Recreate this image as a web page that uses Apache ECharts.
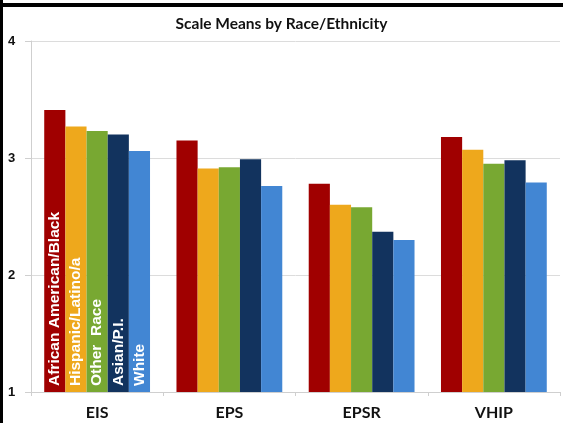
<!DOCTYPE html>
<html><head><meta charset="utf-8">
<script src="https://cdn.jsdelivr.net/npm/echarts@6/dist/echarts.min.js"></script>
<style>html,body{margin:0;padding:0;background:#fff;}#c{width:563px;height:423px;}</style>
</head><body><div id="c"></div>
<script>
const categories = ['EIS', 'EPS', 'EPSR', 'VHIP'];
const seriesNames = ['African American/Black', 'Hispanic/Latino/a', 'Other  Race', 'Asian/P.I.', 'White'];
const africanAmerican = [3.41, 3.15, 2.78, 3.18];
const hispanic = [3.27, 2.91, 2.60, 3.07];
const otherRace = [3.23, 2.92, 2.58, 2.95];
const asianPI = [3.20, 2.99, 2.37, 2.98];
const white = [3.06, 2.76, 2.30, 2.79];
const yTicks = [1, 2, 3, 4];
const colors = ['#A00000', '#EEA81C', '#78A832', '#12335E', '#4286D3'];

const allValues = [africanAmerican, hispanic, otherRace, asianPI, white];
const chart = echarts.init(document.getElementById('c'));
chart.setOption({
  animation: false,
  title: {
    text: 'Scale Means by Race/Ethnicity', left: 'center', top: 11,
    textStyle: { fontFamily: 'Lato', fontWeight: 'bold', fontSize: 15.5, color: '#111' }
  },
  grid: { left: 31, right: 3, top: 41, bottom: 31 },
  xAxis: {
    type: 'category', data: categories,
    axisLine: { lineStyle: { color: '#cfcfcf' } },
    axisTick: { show: true, length: 4, lineStyle: { color: '#cfcfcf' } },
    axisLabel: { color: '#111', fontFamily: 'Lato', fontWeight: 'bold', fontSize: 16, margin: 13 }
  },
  yAxis: {
    type: 'value', min: yTicks[0], max: yTicks[yTicks.length - 1], interval: 1,
    axisLine: { show: true, lineStyle: { color: '#cfcfcf' } },
    axisTick: { show: true, length: 6, lineStyle: { color: '#cfcfcf' } },
    splitLine: { lineStyle: { color: '#dcdcdc' } },
    axisLabel: { color: '#111', fontFamily: 'Liberation Sans', fontWeight: 'bold', fontSize: 13, align: 'left', margin: 23 }
  },
  series: seriesNames.map((n, i) => ({
    name: n, type: 'bar', barGap: '0%', barCategoryGap: '20%',
    itemStyle: { color: colors[i] },
    data: allValues[i].map((v, j) => j === 0 ? {
      value: v,
      label: {
        show: true, formatter: n, position: 'insideBottom', rotate: 90,
        align: 'left', verticalAlign: 'middle', distance: 6,
        color: '#fff', fontFamily: 'Liberation Sans', fontWeight: 'bold', fontSize: 15.5
      }
    } : v)
  })),
  graphic: [
    { type: 'rect', shape: { x: 0, y: 3, width: 563, height: 4 }, style: { fill: '#000' } },
    { type: 'rect', shape: { x: 0, y: 0, width: 3, height: 423 }, style: { fill: '#000' } }
  ]
});
</script></body></html>
